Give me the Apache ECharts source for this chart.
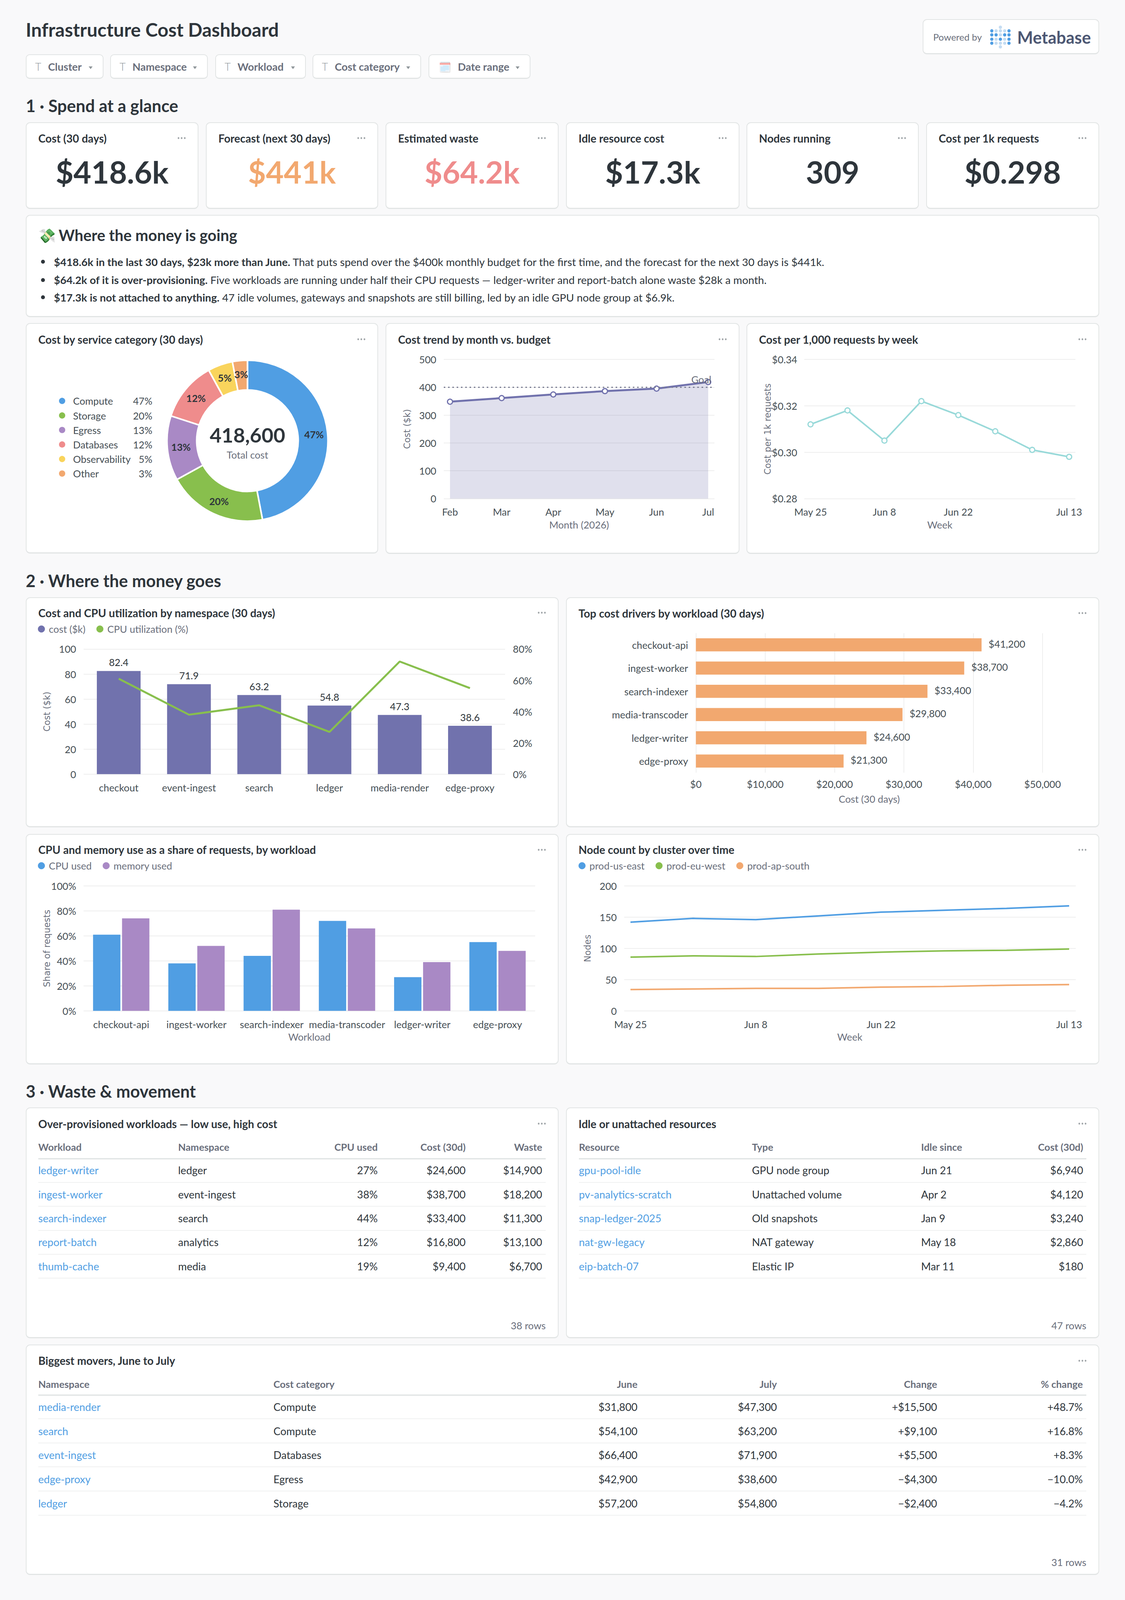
<!DOCTYPE html>
<html>
<head>
<meta charset="utf-8">
<title>Infrastructure Cost Dashboard</title>
<script src="https://cdn.jsdelivr.net/npm/echarts@6/dist/echarts.min.js"></script>
<style>
  html, body { margin: 0; padding: 0; background: #f9f9fa; }
  #page { position: relative; width: 2880px; overflow: hidden; font-family: Lato, sans-serif; color: #2e353b; }
  .card { position: absolute; box-sizing: border-box; background: #fff; border: 2px solid #e2e5e5; border-bottom-width: 3px; border-radius: 11px; }
  .chip { position: absolute; box-sizing: border-box; background: #fff; border: 2px solid #e2e5e5; border-bottom-width: 3px; border-radius: 10px; }
  .txt { position: absolute; white-space: nowrap; }
  .dots { position: absolute; width: 24px; height: 5px; background: radial-gradient(circle, #a3a8ab 2px, transparent 2.6px) 0 0 / 8px 5px repeat-x; }
  .chart { position: absolute; }
  .rule { position: absolute; }
  .caret { position: absolute; width: 0; height: 0; border-left: 5px solid transparent; border-right: 5px solid transparent; border-top: 7px solid #8f969a; }
</style>
</head>
<body>
<div id="page"></div>
<script>
var blue = '#509ee3', green = '#88bf4d', purple = '#a989c5', red = '#ef8c8c', yellow = '#f9d45c', orange = '#f2a86f', teal = '#98d9d9', indigo = '#7172ad';
var dark = '#2e353b', axisInk = '#454e54', muted = '#696e7b', gridInk = '#eeeeee';

// --- data ---
var filterNames = ['Cluster', 'Namespace', 'Workload', 'Cost category', 'Date range'];
var kpiTitles = ['Cost (30 days)', 'Forecast (next 30 days)', 'Estimated waste', 'Idle resource cost', 'Nodes running', 'Cost per 1k requests'];
var kpiValues = ['$418.6k', '$441k', '$64.2k', '$17.3k', '309', '$0.298'];
var kpiColors = [dark, orange, red, dark, dark, dark];

var serviceNames = ['Compute', 'Storage', 'Egress', 'Databases', 'Observability', 'Other'];
var serviceShare = [47, 20, 13, 12, 5, 3];
var serviceColors = [blue, green, purple, red, yellow, orange];
var totalCost = '418,600';

var months = ['Feb', 'Mar', 'Apr', 'May', 'Jun', 'Jul'];
var monthCost = [348, 361, 374, 386, 395, 418.6];
var budget = 400;

var weeks = ['May 25', 'Jun 1', 'Jun 8', 'Jun 15', 'Jun 22', 'Jun 29', 'Jul 6', 'Jul 13'];
var weekTicks = [0, 2, 4, 7];
var costPer1k = [0.312, 0.318, 0.305, 0.322, 0.316, 0.309, 0.301, 0.298];

var namespaces = ['checkout', 'event-ingest', 'search', 'ledger', 'media-render', 'edge-proxy'];
var namespaceCost = [82.4, 71.9, 63.2, 54.8, 47.3, 38.6];
var namespaceCpu = [61, 38, 44, 27, 72, 55];

var driverNames = ['checkout-api', 'ingest-worker', 'search-indexer', 'media-transcoder', 'ledger-writer', 'edge-proxy'];
var driverCost = [41200, 38700, 33400, 29800, 24600, 21300];

var workloads = ['checkout-api', 'ingest-worker', 'search-indexer', 'media-transcoder', 'ledger-writer', 'edge-proxy'];
var cpuUsed = [61, 38, 44, 72, 27, 55];
var memoryUsed = [74, 52, 81, 66, 39, 48];

var nodesUsEast = [142, 148, 146, 152, 158, 161, 164, 168];
var nodesEuWest = [86, 88, 87, 91, 94, 96, 97, 99];
var nodesApSouth = [34, 35, 36, 36, 38, 39, 41, 42];

var overColumns = ['Workload', 'Namespace', 'CPU used', 'Cost (30d)', 'Waste'];
var overRows = [
  ['ledger-writer', 'ledger', '27%', '$24,600', '$14,900'],
  ['ingest-worker', 'event-ingest', '38%', '$38,700', '$18,200'],
  ['search-indexer', 'search', '44%', '$33,400', '$11,300'],
  ['report-batch', 'analytics', '12%', '$16,800', '$13,100'],
  ['thumb-cache', 'media', '19%', '$9,400', '$6,700']
];
var idleColumns = ['Resource', 'Type', 'Idle since', 'Cost (30d)'];
var idleRows = [
  ['gpu-pool-idle', 'GPU node group', 'Jun 21', '$6,940'],
  ['pv-analytics-scratch', 'Unattached volume', 'Apr 2', '$4,120'],
  ['snap-ledger-2025', 'Old snapshots', 'Jan 9', '$3,240'],
  ['nat-gw-legacy', 'NAT gateway', 'May 18', '$2,860'],
  ['eip-batch-07', 'Elastic IP', 'Mar 11', '$180']
];
var moverColumns = ['Namespace', 'Cost category', 'June', 'July', 'Change', '% change'];
var moverRows = [
  ['media-render', 'Compute', '$31,800', '$47,300', '+$15,500', '+48.7%'],
  ['search', 'Compute', '$54,100', '$63,200', '+$9,100', '+16.8%'],
  ['event-ingest', 'Databases', '$66,400', '$71,900', '+$5,500', '+8.3%'],
  ['edge-proxy', 'Egress', '$42,900', '$38,600', '\u2212$4,300', '\u221210.0%'],
  ['ledger', 'Storage', '$57,200', '$54,800', '\u2212$2,400', '\u22124.2%']
];

// --- page helpers ---
// the window can be shorter than the 4406px layout, so vertical positions get squeezed to fit it
var fit = Math.min(1, window.innerHeight / 4406);
function Y(v) { return v * fit; }

var page = document.getElementById('page');
page.style.height = Y(4406) + 'px';

function el(cls, x, y, w, h) {
  var d = document.createElement('div');
  d.className = cls;
  d.style.left = x + 'px';
  d.style.top = Y(y) + 'px';
  if (w != null) d.style.width = w + 'px';
  if (h != null) d.style.height = h + 'px';
  page.appendChild(d);
  return d;
}

// x is the anchor, cy the vertical centre of the line
function text(x, cy, html, size, weight, color, align) {
  var d = el('txt', 0, 0);
  d.style.top = (Y(cy) - size) + 'px';
  d.innerHTML = html;
  d.style.fontSize = size + 'px';
  d.style.lineHeight = (size * 2) + 'px';
  d.style.fontWeight = weight;
  d.style.color = color;
  if (align === 'right') {
    d.style.left = 'auto';
    d.style.right = (2880 - x) + 'px';
  } else if (align === 'center') {
    d.style.left = x + 'px';
    d.style.transform = 'translateX(-50%)';
  } else {
    d.style.left = x + 'px';
  }
  return d;
}

function card(x, y, w, h, title, cy) {
  el('card', x, y, w, Y(h));
  if (title) {
    text(x + 32, cy, title, 28.1, 700, dark);
    el('dots', x + w - 55, cy - 3);
  }
}

function rule(x, y, w, h, color) {
  var d = el('rule', x, y, w, h);
  d.style.background = color;
}

function chartBox(x, y, w, h) {
  return echarts.init(el('chart', x, y, w, Y(h)), null, { renderer: 'svg' });
}

function drawTable(headers, rows, colX, colAlign, left, right, headY, ruleY, rowH, textDy) {
  headers.forEach(function(h, i) {
    text(colX[i], headY, h, 25.4, 700, muted, colAlign[i]);
  });
  rule(left, ruleY, right - left, 3, '#dfe3e3');
  rows.forEach(function(row, r) {
    var rowY = ruleY + rowH * r;
    row.forEach(function(v, i) {
      text(colX[i], rowY + textDy, v, 27, 400, i === 0 ? blue : dark, colAlign[i]);
    });
    rule(left, rowY + rowH, right - left, 2, '#f0f1f1');
  });
}

// --- header ---
text(66, 82, 'Infrastructure Cost Dashboard', 48, 700, dark);

var chipX = [66, 282, 551, 800, 1097];
var chipW = [199, 250, 232, 278, 261];
filterNames.forEach(function(name, i) {
  el('chip', chipX[i], 150, chipW[i], Y(67));
  var isDate = i === 4;
  if (isDate) {
    text(chipX[i] + 26, 184, '\uD83D\uDDD3\uFE0F', 26, 400, muted).style.opacity = 0.45;
  } else {
    text(chipX[i] + 24, 184, 'T', 27, 300, '#8f969a');
  }
  text(chipX[i] + (isDate ? 75 : 57), 184, name, 27, 700, muted);
  el('caret', chipX[i] + chipW[i] - 38, 183);
});

// Powered by badge
el('card', 2362, 53, 452, Y(96));
text(2389, 102, 'Powered by', 24, 400, muted);
var logoColumns = [2539, 2550, 2561, 2572, 2583];
var logoRows = [85, 96, 108, 119];
var logoDark = [[1, 0, 0, 0, 1], [1, 1, 0, 1, 1], [1, 0, 1, 0, 1], [1, 0, 0, 0, 1]];
var logo = '';
logoRows.forEach(function(y, r) {
  logoColumns.forEach(function(x, c) {
    logo += '<circle cx="' + x + '" cy="' + Y(y) + '" r="4.2" fill="' + (logoDark[r][c] ? blue : '#c4dcf2') + '"/>';
  });
});
logo += '<circle cx="2561" cy="' + Y(75) + '" r="4.2" fill="#c4dcf2"/><circle cx="2561" cy="' + Y(129) + '" r="4.2" fill="#c4dcf2"/>';
var logoSvg = document.createElement('div');
logoSvg.innerHTML = '<svg xmlns="http://www.w3.org/2000/svg" width="2880" height="200" style="position:absolute;left:0;top:0">' + logo + '</svg>';
page.appendChild(logoSvg);
text(2604, 103, 'Metabase', 43, 700, '#4c5773');

// --- section 1 ---
text(66, 291, '1 \u00B7 Spend at a glance', 43, 700, dark);

var kpiX = [66, 527, 987, 1449, 1911, 2371];
var kpiW = [442, 441, 443, 444, 441, 443];
kpiTitles.forEach(function(t, i) {
  card(kpiX[i], 337, kpiW[i], 238, t, 381);
  text(kpiX[i] + kpiW[i] / 2, 473, kpiValues[i], 78.75, 700, kpiColors[i], 'center');
});

card(66, 592, 2748, 281);
text(98, 648, '\uD83D\uDCB8', 36, 400, dark);
text(150, 648, 'Where the money is going', 39.4, 700, dark);
var bulletY = [721, 771, 819];
var bullets = [
  '<b>$418.6k in the last 30 days, $23k more than June.</b> That puts spend over the $400k monthly budget for the first time, and the forecast for the next 30 days is $441k.',
  '<b>$64.2k of it is over-provisioning.</b> Five workloads are running under half their CPU requests \u2014 ledger-writer and report-batch alone waste $28k a month.',
  '<b>$17.3k is not attached to anything.</b> 47 idle volumes, gateways and snapshots are still billing, led by an idle GPU node group at $6.9k.'
];
bullets.forEach(function(b, i) {
  var dot = el('rule', 105, bulletY[i], 10, 10);
  dot.style.marginTop = '-5px';
  dot.style.background = dark;
  dot.style.borderRadius = '50%';
  text(138, bulletY[i], b, 27.5, 400, dark);
});

card(66, 890, 902, 634, 'Cost by service category (30 days)', 935);
card(987, 890, 906, 635, 'Cost trend by month vs. budget', 935);
card(1911, 890, 903, 635, 'Cost per 1,000 requests by week', 935);

// --- section 2 ---
text(66, 1600, '2 \u00B7 Where the money goes', 43, 700, dark);
card(66, 1645, 1364, 633, 'Cost and CPU utilization by namespace (30 days)', 1688);
card(1449, 1645, 1365, 633, 'Top cost drivers by workload (30 days)', 1689);
card(66, 2297, 1364, 634, 'CPU and memory use as a share of requests, by workload', 2340);
card(1449, 2297, 1365, 634, 'Node count by cluster over time', 2340);

// --- section 3 ---
text(66, 3005, '3 \u00B7 Waste &amp; movement', 43, 700, dark);
card(66, 3050, 1364, 635, 'Over-provisioned workloads \u2014 low use, high cost', 3095);
card(1449, 3050, 1365, 635, 'Idle or unattached resources', 3095);
card(66, 3703, 2748, 634, 'Biggest movers, June to July', 3747);

drawTable(overColumns, overRows, [98, 456, 967, 1192, 1388], ['left', 'left', 'right', 'right', 'right'], 98, 1397, 3159, 3189, 66, 34);
text(1397, 3650, '38 rows', 25.3, 400, muted, 'right');
drawTable(idleColumns, idleRows, [1482, 1925, 2358, 2773], ['left', 'left', 'left', 'right'], 1482, 2781, 3159, 3189, 66, 34);
text(2781, 3650, '47 rows', 25.3, 400, muted, 'right');
drawTable(moverColumns, moverRows, [98, 700, 1632, 1989, 2399, 2772], ['left', 'left', 'right', 'right', 'right', 'right'], 98, 2781, 3812, 3840, 66.2, 35);
text(2781, 4302, '31 rows', 25.3, 400, muted, 'right');

// --- chart helpers ---
var axisFont = { fontFamily: 'Lato', fontSize: 25.3, color: axisInk };

function yName(name, gap) {
  return {
    name: name,
    nameLocation: 'middle',
    nameGap: gap,
    nameMoveOverlap: false,
    nameTextStyle: { fontFamily: 'DejaVu Sans', fontSize: 22.5, color: muted }
  };
}

function valueAxis(opts, name, gap) {
  var a = {
    type: 'value',
    axisLine: { show: false },
    axisTick: { show: false },
    axisLabel: Object.assign({ margin: 19 }, axisFont),
    splitLine: { lineStyle: { color: gridInk, width: 2 } }
  };
  if (name) Object.assign(a, yName(name, gap));
  return Object.assign(a, opts);
}

function catAxis(cats, opts) {
  return Object.assign({
    type: 'category',
    data: cats,
    axisLine: { show: false },
    axisTick: { show: false },
    axisLabel: Object.assign({ margin: Y(23), interval: 0 }, axisFont),
    nameLocation: 'middle',
    nameGap: Y(58),
    nameMoveOverlap: false,
    nameTextStyle: { fontFamily: 'Lato', fontSize: 25.3, color: muted }
  }, opts);
}

function topLegend(left) {
  return {
    left: left,
    top: Y(88) - 13,
    padding: 0,
    icon: 'circle',
    itemWidth: 18,
    itemHeight: 18,
    itemGap: 28,
    textStyle: { fontFamily: 'Lato', fontSize: 25.3, color: muted, padding: [0, 0, 0, 5] }
  };
}

function pointStyle(color) {
  return { color: '#fff', borderColor: color, borderWidth: 3 };
}

// --- Chart: Cost by service category ---
var pieChart = chartBox(66, 890, 902, 634);
pieChart.setOption({
  animation: false,
  legend: {
    orient: 'vertical',
    left: 83,
    top: Y(215) - 13,
    padding: 0,
    icon: 'circle',
    itemWidth: 18,
    itemHeight: 18,
    itemGap: Y(40) - 25,
    selectedMode: false,
    formatter: function(name) {
      return '{n|' + name + '}{p|' + serviceShare[serviceNames.indexOf(name)] + '%}';
    },
    textStyle: {
      fontFamily: 'Lato',
      rich: {
        n: { fontFamily: 'Lato', fontSize: 25.3, color: axisInk, width: 159, padding: [0, 0, 0, 14] },
        p: { fontFamily: 'Lato', fontSize: 25.3, color: axisInk, width: 44, align: 'right' }
      }
    }
  },
  graphic: [
    { type: 'text', x: 567.5, y: Y(308), style: { text: totalCost, fontFamily: 'Lato', fontSize: 52, fontWeight: 700, fill: dark, align: 'center', verticalAlign: 'middle', textAlign: 'center', textVerticalAlign: 'middle' } },
    { type: 'text', x: 567.5, y: Y(363), style: { text: 'Total cost', fontFamily: 'Lato', fontSize: 25.3, fill: muted, align: 'center', verticalAlign: 'middle', textAlign: 'center', textVerticalAlign: 'middle' } }
  ],
  series: [{
    type: 'pie',
    center: [567.5, Y(324)],
    radius: [130, 206],
    startAngle: 90,
    clockwise: true,
    itemStyle: { borderColor: '#fff', borderWidth: 4 },
    label: { show: true, position: 'inside', formatter: '{c}%', fontFamily: 'Lato', fontSize: 25.3, fontWeight: 700, color: dark },
    labelLine: { show: false },
    data: serviceNames.map(function(name, i) {
      return { name: name, value: serviceShare[i], itemStyle: { color: serviceColors[i] } };
    })
  }]
});

// --- Chart: Cost trend vs budget ---
// gridlines live on the wider grid, the marks on the inset one
var trendChart = chartBox(987, 890, 906, 635);
trendChart.setOption({
  animation: false,
  grid: [
    { left: 149, top: Y(100), width: 693, height: Y(383.5) },
    { left: 165, top: Y(100), width: 661, height: Y(383.5) }
  ],
  xAxis: [
    { gridIndex: 0, type: 'category', show: false, data: months },
    catAxis(months, { gridIndex: 1, boundaryGap: false, name: 'Month (2026)' })
  ],
  yAxis: [
    valueAxis({ gridIndex: 0, min: 0, max: 500, interval: 100 }, 'Cost ($k)', 83),
    { gridIndex: 1, type: 'value', show: false, min: 0, max: 500 }
  ],
  series: [
    {
      type: 'line',
      xAxisIndex: 1,
      yAxisIndex: 1,
      data: monthCost,
      symbol: 'circle',
      symbolSize: 13,
      lineStyle: { color: indigo, width: 5 },
      itemStyle: pointStyle(indigo),
      areaStyle: { color: indigo, opacity: 0.22 }
    },
    {
      type: 'line',
      xAxisIndex: 0,
      yAxisIndex: 0,
      data: [],
      markLine: {
        silent: true,
        symbol: 'none',
        lineStyle: { color: '#7c7f94', type: [4, 7], width: 3 },
        label: { show: true, position: 'insideEndTop', distance: 8, formatter: 'Goal', fontFamily: 'Lato', fontSize: 25.3, color: muted },
        data: [{ yAxis: budget }]
      }
    }
  ]
});

// --- Chart: Cost per 1,000 requests ---
var weekLabel = function(index) { return weekTicks.indexOf(index) >= 0; };
var unitChart = chartBox(1911, 890, 903, 635);
unitChart.setOption({
  animation: false,
  grid: [
    { left: 148, top: Y(100), width: 694, height: Y(383.5) },
    { left: 164, top: Y(100), width: 662, height: Y(383.5) }
  ],
  xAxis: [
    { gridIndex: 0, type: 'category', show: false, data: weeks },
    catAxis(weeks, { gridIndex: 1, boundaryGap: false, name: 'Week', axisLabel: Object.assign({ margin: Y(23), interval: weekLabel }, axisFont) })
  ],
  yAxis: [
    valueAxis({
      gridIndex: 0, min: 0.28, max: 0.34, interval: 0.02,
      axisLabel: Object.assign({ margin: 18, formatter: function(v) { return '$' + v.toFixed(2); } }, axisFont)
    }, 'Cost per 1k requests', 83),
    { gridIndex: 1, type: 'value', show: false, min: 0.28, max: 0.34 }
  ],
  series: [{
    type: 'line',
    xAxisIndex: 1,
    yAxisIndex: 1,
    data: costPer1k,
    symbol: 'circle',
    symbolSize: 13,
    lineStyle: { color: teal, width: 4 },
    itemStyle: pointStyle(teal)
  }]
});

// --- Chart: Cost and CPU by namespace ---
var comboChart = chartBox(66, 1645, 1364, 633);
comboChart.setOption({
  animation: false,
  legend: Object.assign(topLegend(31), { data: ['cost ($k)', 'CPU utilization (%)'] }),
  grid: { left: 148, top: Y(142.5), width: 1079, height: Y(344.5) },
  xAxis: catAxis(namespaces, {}),
  yAxis: [
    valueAxis({ min: 0, max: 100, interval: 20 }, 'Cost ($k)', 83),
    valueAxis({
      min: 0, max: 80, interval: 20, position: 'right',
      splitLine: { show: false },
      axisLabel: Object.assign({ margin: 20, formatter: '{value}%' }, axisFont)
    })
  ],
  series: [
    {
      name: 'cost ($k)',
      type: 'bar',
      data: namespaceCost,
      barWidth: 112,
      itemStyle: { color: indigo },
      label: { show: true, position: 'top', distance: 10, fontFamily: 'Lato', fontSize: 25.3, color: dark }
    },
    {
      name: 'CPU utilization (%)',
      type: 'line',
      yAxisIndex: 1,
      data: namespaceCpu,
      symbol: 'none',
      lineStyle: { color: green, width: 5 },
      itemStyle: { color: green }
    }
  ]
});

// --- Chart: Top cost drivers ---
var driverChart = chartBox(1449, 1645, 1365, 633);
driverChart.setOption({
  animation: false,
  grid: { left: 332.5, top: Y(99), width: 887.5, height: Y(384) },
  xAxis: valueAxis({
    min: 0, max: 50000, interval: 10000,
    name: 'Cost (30 days)',
    nameLocation: 'middle',
    nameGap: Y(59),
    nameMoveOverlap: false,
    nameTextStyle: { fontFamily: 'Lato', fontSize: 25.3, color: muted },
    axisLabel: Object.assign({ margin: Y(18), formatter: function(v) { return '$' + v.toLocaleString('en-US'); } }, axisFont)
  }),
  yAxis: catAxis(driverNames, { inverse: true, axisLabel: Object.assign({ margin: 20, interval: 0 }, axisFont) }),
  series: [{
    type: 'bar',
    data: driverCost,
    barWidth: Y(36),
    itemStyle: { color: orange },
    label: {
      show: true,
      position: 'right',
      distance: 18,
      offset: [0, -3],
      fontFamily: 'Lato',
      fontSize: 25.3,
      color: axisInk,
      formatter: function(p) { return '$' + p.value.toLocaleString('en-US'); }
    }
  }]
});

// --- Chart: CPU and memory share ---
var shareChart = chartBox(66, 2297, 1364, 634);
shareChart.setOption({
  animation: false,
  legend: topLegend(31),
  grid: { left: 148, top: Y(143), width: 1156, height: Y(344) },
  xAxis: catAxis(workloads, { name: 'Workload' }),
  yAxis: valueAxis({
    min: 0, max: 100, interval: 20,
    axisLabel: Object.assign({ margin: 19, formatter: '{value}%' }, axisFont)
  }, 'Share of requests', 83),
  series: [
    { name: 'CPU used', type: 'bar', data: cpuUsed, barWidth: 70, barGap: '6%', itemStyle: { color: blue } },
    { name: 'memory used', type: 'bar', data: memoryUsed, barWidth: 70, itemStyle: { color: purple } }
  ]
});

// --- Chart: Node count ---
var nodeChart = chartBox(1449, 2297, 1365, 634);
function nodeSeries(name, values, color) {
  return {
    name: name,
    type: 'line',
    xAxisIndex: 1,
    yAxisIndex: 1,
    data: values,
    symbol: 'none',
    lineStyle: { color: color, width: 4 },
    itemStyle: { color: color }
  };
}
nodeChart.setOption({
  animation: false,
  legend: topLegend(32),
  grid: [
    { left: 149, top: Y(143), width: 1156, height: Y(344) },
    { left: 165, top: Y(143), width: 1123, height: Y(344) }
  ],
  xAxis: [
    { gridIndex: 0, type: 'category', show: false, data: weeks },
    catAxis(weeks, { gridIndex: 1, boundaryGap: false, name: 'Week', axisLabel: Object.assign({ margin: Y(23), interval: weekLabel }, axisFont) })
  ],
  yAxis: [
    valueAxis({ gridIndex: 0, min: 0, max: 200, interval: 50 }, 'Nodes', 83),
    { gridIndex: 1, type: 'value', show: false, min: 0, max: 200 }
  ],
  series: [
    nodeSeries('prod-us-east', nodesUsEast, blue),
    nodeSeries('prod-eu-west', nodesEuWest, green),
    nodeSeries('prod-ap-south', nodesApSouth, orange)
  ]
});
</script>
</body>
</html>
